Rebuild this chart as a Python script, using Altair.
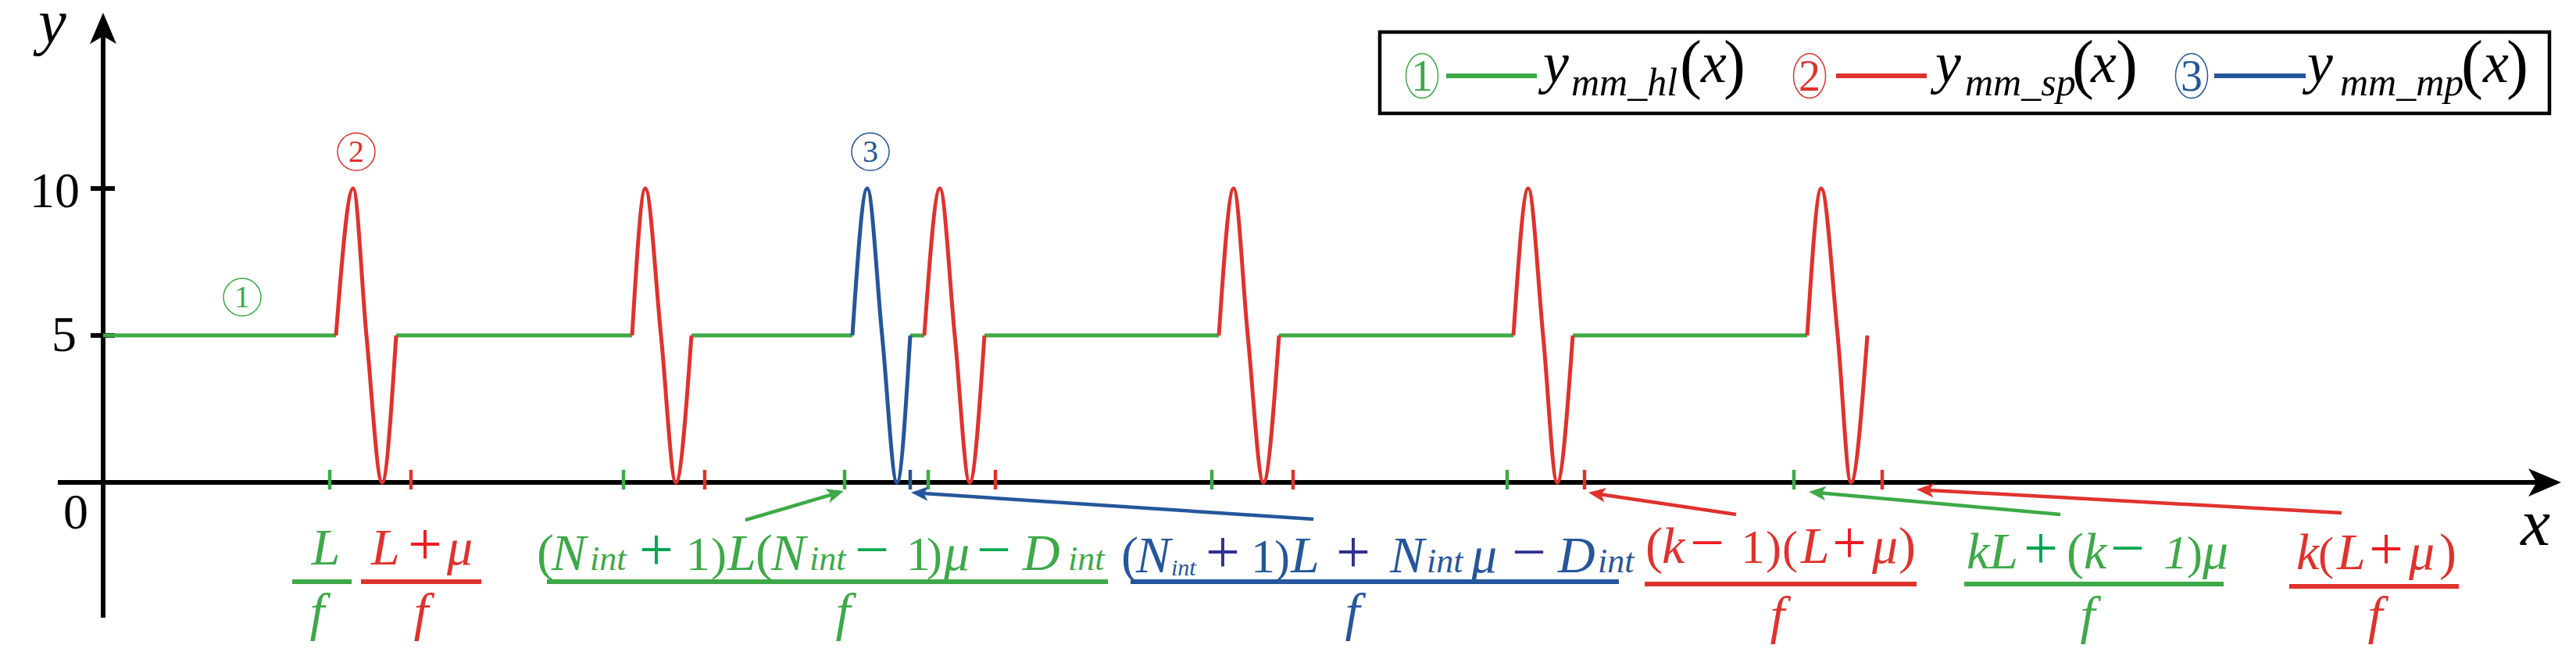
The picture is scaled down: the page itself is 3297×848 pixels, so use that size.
import math
import altair as alt
import pandas as pd

# ---------------- values ----------------
# x: horizontal position (1 unit = 10 px of the reference, 0 at the y-axis)
# y: signal value (the plateau sits at 5, the waves swing between 0 and 10)
level = 5
wave_shape_y = [5, 10, 5, 0, 5]            # start, peak, crossing, trough, end
red_waves_x = [
    [29.8, 32.0, 33.7, 35.7, 37.5],
    [67.7, 69.4, 71.4, 73.3, 75.3],
    [105.1, 107.1, 109.0, 110.9, 112.8],
    [142.8, 144.7, 146.5, 148.5, 150.5],
    [180.5, 182.4, 184.3, 186.1, 188.1],
    [218.1, 219.9, 222.0, 223.7, 225.8],
]
blue_wave_x = [95.9, 97.8, 99.7, 101.6, 103.3]
green_segments_x = [(0, 29.8), (37.5, 67.7), (75.3, 95.9), (103.3, 105.1),
                    (112.8, 142.8), (150.5, 180.5), (188.1, 218.1)]
green_ticks_x = [29.0, 66.6, 94.9, 105.6, 141.9, 179.7, 216.4]
red_ticks_x = [39.4, 77.0, 114.2, 152.3, 189.6, 227.7]
blue_ticks_x = [103.3]
y_tick_values = [10, 5]
y_tick_labels = ["10", "5"]

# ---------------- styles ----------------
G, R, B, K = "#3da947", "#e0322d", "#25569b", "#000000"
GO, RO, BO = "#00a651", "#ed1c24", "#2e3192"   # operator colours inside labels
FONT = "Liberation Serif"
OPS = 78                                       # size of + and − glyphs

W, H = 3275, 826
XD = [-12.4, 315.1]
YD = [-5.77, 16.2]
PX_X = W / (XD[1] - XD[0])
PX_Y = H / (YD[1] - YD[0])

XS = alt.Scale(domain=XD, nice=False, zero=False)
YS = alt.Scale(domain=YD, nice=False, zero=False)


def ex(f="x"):
    return alt.X(f"{f}:Q", scale=XS, axis=None)


def ey(f="y"):
    return alt.Y(f"{f}:Q", scale=YS, axis=None)


HEAD = "M0,-1L0.85,1L0,0.5L-0.85,1Z"          # stealth arrow head, pointing up
ELLIPSE = ("M0,-1C0.3977,-1 0.72,-0.5523 0.72,0C0.72,0.5523 0.3977,1 0,1"
           "C-0.3977,1 -0.72,0.5523 -0.72,0C-0.72,-0.5523 -0.3977,-1 0,-1Z")

# ---------------- curves ----------------
rows = []
for i, (a, b) in enumerate(green_segments_x):
    rows += [dict(x=a, y=level, seg=f"g{i}"), dict(x=b, y=level, seg=f"g{i}")]
green_df = pd.DataFrame(rows)
rows = []
for i, xs in enumerate(red_waves_x):
    for xv, yv in zip(xs, wave_shape_y):
        rows.append(dict(x=xv, y=yv, seg=f"r{i}"))
red_df = pd.DataFrame(rows)
blue_df = pd.DataFrame(dict(x=blue_wave_x, y=wave_shape_y))

LW = 5
green_line = alt.Chart(green_df).mark_line(color=G, strokeWidth=LW).encode(
    x=ex(), y=ey(), detail="seg:N")
red_line = alt.Chart(red_df).mark_line(color=R, strokeWidth=LW, interpolate="monotone").encode(
    x=ex(), y=ey(), detail="seg:N")
blue_line = alt.Chart(blue_df).mark_line(color=B, strokeWidth=LW, interpolate="monotone").encode(
    x=ex(), y=ey())

# ---------------- axes ----------------
xaxis = alt.Chart(pd.DataFrame(dict(x=[-5.8], x2=[311.5], y=[0]))).mark_rule(
    color=K, strokeWidth=6).encode(x=ex(), x2=alt.X2("x2:Q"), y=ey())
yaxis = alt.Chart(pd.DataFrame(dict(x=[0], y=[-4.6], y2=[15.2]))).mark_rule(
    color=K, strokeWidth=6).encode(x=ex(), y=ey(), y2=alt.Y2("y2:Q"))
ytick = alt.Chart(pd.DataFrame(dict(x=[-1.6] * 2, x2=[1.5] * 2, y=y_tick_values))).mark_rule(
    color=K, strokeWidth=6).encode(x=ex(), x2=alt.X2("x2:Q"), y=ey())


def head(tail, tip, length):
    dx = (tip[0] - tail[0]) * PX_X
    dy = -(tip[1] - tail[1]) * PX_Y
    n = math.hypot(dx, dy)
    ux, uy = dx / n, dy / n
    cx = tip[0] - ux * length / 2 / PX_X
    cy = tip[1] + uy * length / 2 / PX_Y
    ex_ = tip[0] - ux * length * 0.7 / PX_X
    ey_ = tip[1] + uy * length * 0.7 / PX_Y
    ang = math.degrees(math.atan2(ux, -uy)) % 360
    return cx, cy, ang, ex_, ey_


heads = []
for tail, tip, ln in [((0, 0), (314.6, 0), 42), ((0, 0), (0, 15.98), 40)]:
    cx, cy, ang, _, _ = head(tail, tip, ln)
    heads.append(dict(x=cx, y=cy, angle=ang, size=ln * ln, color=K))

# ---------------- annotation arrows ----------------
arrows = [
    ((82.2, -1.277), (94.8, -0.293), G),
    ((154.9, -1.250), (103.4, -0.346), B),
    ((209.0, -1.090), (190.1, -0.346), R),
    ((250.5, -1.090), (218.3, -0.319), G),
    ((286.5, -1.037), (232.1, -0.239), R),
]
arrow_rows = []
for tail, tip, col in arrows:
    cx, cy, ang, lx, ly = head(tail, tip, 22)
    heads.append(dict(x=cx, y=cy, angle=ang, size=484, color=col))
    arrow_rows.append(dict(x=tail[0], y=tail[1], x2=lx, y2=ly, color=col))
arrow_lines = alt.Chart(pd.DataFrame(arrow_rows)).mark_rule(strokeWidth=4.5).encode(
    x=ex(), y=ey(), x2=alt.X2("x2:Q"), y2=alt.Y2("y2:Q"),
    color=alt.Color("color:N", scale=None))
head_marks = alt.Chart(pd.DataFrame(heads)).mark_point(
    shape=HEAD, filled=True, opacity=1, strokeWidth=0).encode(
    x=ex(), y=ey(), angle=alt.Angle("angle:Q", scale=None),
    size=alt.Size("size:Q", scale=None), color=alt.Color("color:N", scale=None))

# ---------------- coloured ticks on the x-axis ----------------
tick_rows = ([dict(x=v, color=G) for v in green_ticks_x] + [dict(x=v, color=R) for v in red_ticks_x]
             + [dict(x=v, color=B) for v in blue_ticks_x])
tick_df = pd.DataFrame(tick_rows)
tick_df["y"] = -0.24
tick_df["y2"] = 0.43
ticks = alt.Chart(tick_df).mark_rule(strokeWidth=4.5).encode(
    x=ex(), y=ey(), y2=alt.Y2("y2:Q"), color=alt.Color("color:N", scale=None))

# ---------------- fraction bars ----------------
bars_df = pd.DataFrame([
    dict(x=24.2, x2=31.8, y=-3.378, color=G),
    dict(x=33.0, x2=48.4, y=-3.378, color=R),
    dict(x=56.8, x2=128.6, y=-3.378, color=G),
    dict(x=131.5, x2=194.0, y=-3.378, color=B),
    dict(x=197.3, x2=232.1, y=-3.457, color=R),
    dict(x=238.2, x2=271.4, y=-3.457, color=G),
    dict(x=279.8, x2=301.5, y=-3.537, color=R),
])
bars = alt.Chart(bars_df).mark_rule(strokeWidth=6).encode(
    x=ex(), x2=alt.X2("x2:Q"), y=ey(), color=alt.Color("color:N", scale=None))

# ---------------- circled markers ----------------
circ_df = pd.DataFrame([
    dict(x=17.8, y=6.303, color=G), dict(x=32.4, y=11.25, color=R), dict(x=98.2, y=11.25, color=B)])
circles = alt.Chart(circ_df).mark_point(shape="circle", filled=False, opacity=1,
                                        strokeWidth=1.5, size=2304).encode(
    x=ex(), y=ey(), color=alt.Color("color:N", scale=None))
leg_circ_df = pd.DataFrame([
    dict(x=168.8, y=13.83, color=G), dict(x=218.4, y=13.83, color=R), dict(x=267.3, y=13.83, color=B)])
leg_circles = alt.Chart(leg_circ_df).mark_point(shape=ELLIPSE, filled=False, opacity=1,
                                                strokeWidth=1.5, size=3249).encode(
    x=ex(), y=ey(), color=alt.Color("color:N", scale=None))

# ---------------- legend box and swatches ----------------
box = alt.Chart(pd.DataFrame(dict(x=[163.4], x2=[313.1], y=[15.319], y2=[12.553]))).mark_rect(
    fill="white", stroke=K, strokeWidth=4.5).encode(
    x=ex(), x2=alt.X2("x2:Q"), y=ey(), y2=alt.Y2("y2:Q"))
leg_lines = alt.Chart(pd.DataFrame([
    dict(x=171.9, x2=183.5, y=13.83, color=G),
    dict(x=221.8, x2=233.4, y=13.83, color=R),
    dict(x=270.2, x2=281.9, y=13.83, color=B)])).mark_rule(strokeWidth=6).encode(
    x=ex(), x2=alt.X2("x2:Q"), y=ey(), color=alt.Color("color:N", scale=None))

# ---------------- text ----------------
T = []


def t(text, x, y, size, color, style="normal", align="left"):
    T.append(dict(text=text, x=x, y=y, size=size, color=color, style=style, align=align))


IT = "italic"
# axis labels
t("y", -6.5, 14.95, 80, K, IT, "center")
t("x", 311.3, -2.128, 85, K, IT, "center")
t(y_tick_labels[0], -3.0, 9.362, 64, K, "normal", "right")
t(y_tick_labels[1], -3.4, 4.468, 64, K, "normal", "right")
t("0", -3.5, -1.569, 64, K, "normal", "center")
# circled digits
t("1", 17.8, 5.957, 40, G, "normal", "center")
t("2", 32.4, 10.905, 40, R, "normal", "center")
t("3", 98.2, 10.905, 40, B, "normal", "center")
t("1", 168.8, 13.338, 56, G, "normal", "center")
t("2", 218.4, 13.338, 56, R, "normal", "center")
t("3", 267.3, 13.338, 56, B, "normal", "center")
# L / f
t("L", 28.5, -2.793, 66, G, IT, "center")
t("f", 27.4, -5.027, 68, G, IT, "center")
# (L + mu) / f
t("L", 34.3, -2.793, 66, R, IT)
t("+", 39.0, -2.793, OPS, RO)
t("μ", 44.0, -2.793, 66, R, IT)
t("f", 40.7, -5.027, 68, R, IT, "center")
# green: (N_int+1)L(N_int-1)mu - D_int
b = -2.979
t("(", 55.5, b, 66, G); t("N", 57.4, b, 66, G, IT); t("int", 62.3, b, 44, G, IT)
t("+", 68.6, b, OPS, GO); t("1", 74.6, b, 62, G); t(")", 77.8, b, 60, G)
t("L", 79.9, b, 66, G, IT); t("(", 83.5, b, 66, G); t("N", 85.5, b, 66, G, IT)
t("int", 90.4, b, 44, G, IT); t("−", 96.2, b, OPS, GO); t("1", 102.8, b, 62, G)
t(")", 105.4, b, 60, G); t("μ", 107.6, b, 66, G, IT); t("−", 111.8, b, OPS, GO)
t("D", 117.7, b, 66, G, IT); t("int", 123.5, b, 44, G, IT)
t("f", 94.7, -5.027, 68, G, IT, "center")
# blue: (N_int+1)L + N_int mu - D_int
b = -3.059
t("(", 130.3, b, 66, B); t("N", 132.2, b, 66, B, IT); t("int", 136.7, -3.165, 30, B, IT)
t("+", 141.1, b, OPS, BO); t("1", 146.9, b, 62, B); t(")", 149.9, b, 60, B)
t("L", 152.0, b, 66, B, IT); t("+", 157.8, b, OPS, BO); t("N", 164.7, b, 66, B, IT)
t("int", 169.4, b, 44, B, IT); t("μ", 175.1, b, 66, B, IT); t("−", 180.3, b, OPS, BO)
t("D", 186.2, b, 66, B, IT); t("int", 191.3, b, 44, B, IT)
t("f", 159.9, -5.027, 68, B, IT, "center")
# red: (k-1)(L+mu)
b = -2.739
t("(", 197.4, b, 66, R); t("k", 199.5, b, 66, R, IT); t("−", 203.1, b, OPS, RO)
t("1", 209.6, b, 62, R); t(")", 212.8, b, 60, R); t("(", 214.9, b, 60, R)
t("L", 217.3, b, 66, R, IT); t("+", 221.3, b, OPS, RO); t("μ", 226.4, b, 66, R, IT)
t(")", 229.8, b, 66, R)
t("f", 214.3, -5.133, 68, R, IT, "center")
# green: kL+(k-1)mu
b = -2.926
t("kL", 238.5, b, 66, G, IT); t("+", 245.8, b, OPS, GO); t("(", 251.3, b, 66, G)
t("k", 253.5, b, 66, G, IT); t("−", 256.9, b, OPS, GO); t("1", 263.7, b, 62, G, IT)
t(")", 266.7, b, 60, G); t("μ", 268.7, b, 66, G, IT)
t("f", 254.0, -5.133, 68, G, IT, "center")
# red: k(L+mu)
b = -2.952
t("k", 280.7, b, 66, R, IT); t("(", 283.5, b, 60, R); t("L", 285.9, b, 66, R, IT)
t("+", 290.0, b, OPS, RO); t("μ", 295.1, b, 66, R, IT); t(")", 299.0, b, 66, R)
t("f", 290.8, -5.133, 68, R, IT, "center")
# legend texts
for (xy, xm, xl, xx, xr, sub) in [(184.3, 187.9, 201.8, 204.5, 207.4, "mm_hl"),
                                  (234.5, 238.3, 252.0, 254.4, 257.6, "mm_sp"),
                                  (282.1, 286.3, 301.8, 304.6, 307.6, "mm_mp")]:
    t("y", xy, 13.617, 74, K, IT)
    t(sub, xm, 13.165, 50, K, IT)
    t("(", xl, 13.484, 84, K)
    t("x", xx, 13.617, 74, K, IT)
    t(")", xr, 13.484, 84, K)

text_df = pd.DataFrame(T)
text_layers = []
for (style, align), sub_df in text_df.groupby(["style", "align"]):
    text_layers.append(
        alt.Chart(sub_df).mark_text(font=FONT, fontStyle=style, align=align, baseline="alphabetic").encode(
            x=ex(), y=ey(), text="text:N",
            size=alt.Size("size:Q", scale=None), color=alt.Color("color:N", scale=None)))

chart = alt.layer(
    box, xaxis, yaxis, ytick, green_line, red_line, blue_line, ticks,
    arrow_lines, head_marks, bars, circles, leg_circles, leg_lines, *text_layers
).properties(
    width=W, height=H, padding=0, background="white",
    autosize=alt.AutoSizeParams(type="none"),
).configure_view(stroke=None)

chart.save("out.html", embed_options={"renderer": "svg", "actions": False})
